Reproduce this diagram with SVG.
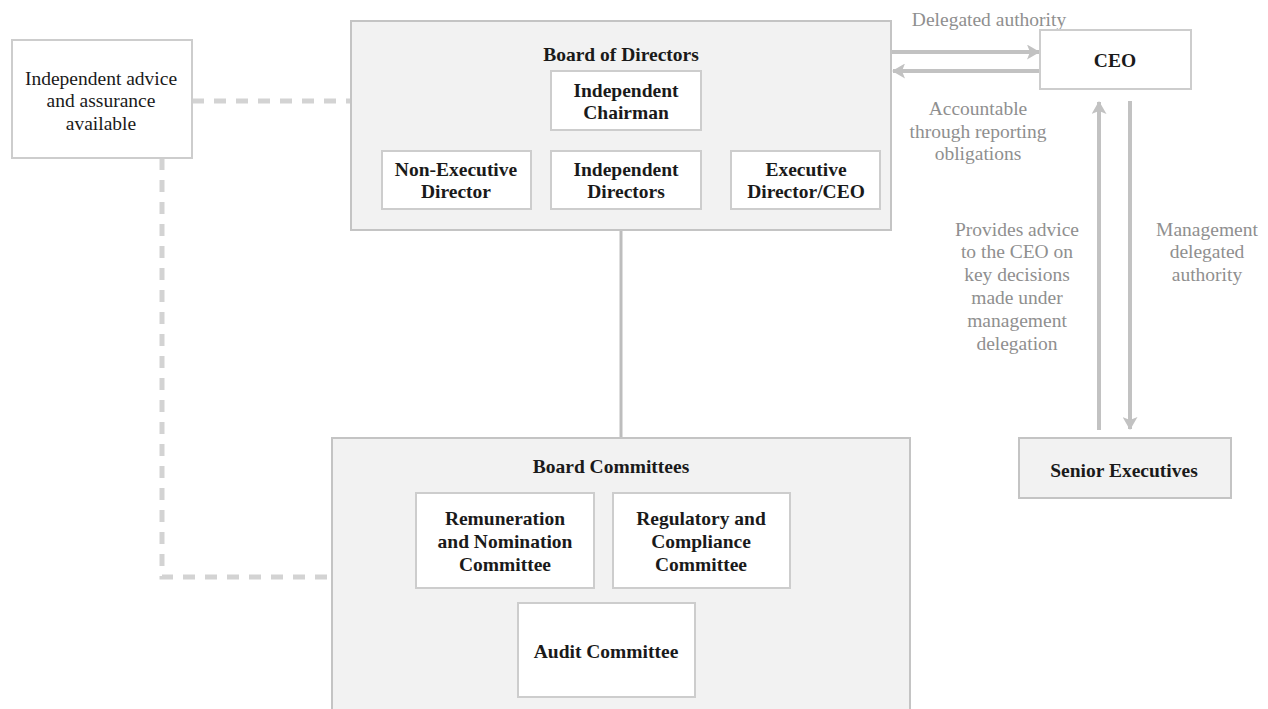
<svg xmlns="http://www.w3.org/2000/svg" width="1268" height="709" viewBox="0 0 1268 709">
<style>
.box{fill:#ffffff;stroke:#cdcdcd;stroke-width:2}
.grp{fill:#f2f2f2;stroke:#c4c4c4;stroke-width:2}
text{font-family:'Liberation Serif','Times New Roman',Tinos,'DejaVu Serif',serif;font-size:19.5px;text-anchor:middle}
.b{font-weight:bold;fill:#1a1a1a}
.r{fill:#1a1a1a}
.g{fill:#8f8f8f}
.arrow{stroke:#c2c2c2;stroke-width:4;fill:none}
.dash{stroke:#d3d3d3;stroke-width:5;fill:none;stroke-dasharray:12 10}
</style>
<defs>
<marker id="ah" viewBox="0 0 13 15" refX="12" refY="7.5" markerWidth="13" markerHeight="15" markerUnits="userSpaceOnUse" orient="auto">
<path d="M0,0 L13,7.5 L0,15 L3,7.5 Z" fill="#c2c2c2"/>
</marker>
</defs>
<rect width="1268" height="709" fill="#ffffff"/>

<g id="connectors">
<path class="dash" d="M192,101 H351"/>
<path class="dash" d="M162,158 V577 H330"/>
<line x1="621" y1="230" x2="621" y2="438" stroke="#bdbdbd" stroke-width="3"/>
<line class="arrow" x1="892" y1="52" x2="1039" y2="52" marker-end="url(#ah)"/>
<line class="arrow" x1="1040" y1="71" x2="893" y2="71" marker-end="url(#ah)"/>
<line class="arrow" x1="1099" y1="430" x2="1099" y2="102" marker-end="url(#ah)"/>
<line class="arrow" x1="1130" y1="101" x2="1130" y2="429" marker-end="url(#ah)"/>
<text class="g" x="989" y="26">Delegated authority</text>
<text class="g" x="978" y="115">Accountable</text>
<text class="g" x="978" y="138">through reporting</text>
<text class="g" x="978" y="160">obligations</text>
<text class="g" x="1017" y="236">Provides advice</text>
<text class="g" x="1017" y="258">to the CEO on</text>
<text class="g" x="1017" y="281">key decisions</text>
<text class="g" x="1017" y="304">made under</text>
<text class="g" x="1017" y="327">management</text>
<text class="g" x="1017" y="350">delegation</text>
<text class="g" x="1207" y="236">Management</text>
<text class="g" x="1207" y="258">delegated</text>
<text class="g" x="1207" y="281">authority</text>
</g>

<g id="independent-advice">
<rect class="box" x="12" y="40" width="180" height="118"/>
<text class="r" x="101" y="85">Independent advice</text>
<text class="r" x="101" y="107">and assurance</text>
<text class="r" x="101" y="130">available</text>
</g>

<g id="board-of-directors">
<rect class="grp" x="351" y="21" width="540" height="209"/>
<text class="b" x="621" y="61">Board of Directors</text>
</g>
<g id="independent-chairman">
<rect class="box" x="551" y="71" width="150" height="59"/>
<text class="b" x="626" y="97">Independent</text>
<text class="b" x="626" y="119">Chairman</text>
</g>
<g id="non-executive-director">
<rect class="box" x="382" y="151" width="149" height="58"/>
<text class="b" x="456" y="176">Non-Executive</text>
<text class="b" x="456" y="198">Director</text>
</g>
<g id="independent-directors">
<rect class="box" x="551" y="151" width="150" height="58"/>
<text class="b" x="626" y="176">Independent</text>
<text class="b" x="626" y="198">Directors</text>
</g>
<g id="executive-director-ceo">
<rect class="box" x="731" y="151" width="149" height="58"/>
<text class="b" x="806" y="176">Executive</text>
<text class="b" x="806" y="198">Director/CEO</text>
</g>

<g id="ceo">
<rect class="box" x="1040" y="30" width="151" height="59"/>
<text class="b" x="1115" y="67">CEO</text>
</g>

<g id="senior-executives">
<rect class="grp" x="1019" y="438" width="212" height="60"/>
<text class="b" x="1124" y="477">Senior Executives</text>
</g>

<g id="board-committees">
<rect class="grp" x="332" y="438" width="578" height="280"/>
<text class="b" x="611" y="473">Board Committees</text>
</g>
<g id="remuneration-committee">
<rect class="box" x="416" y="493" width="178" height="95"/>
<text class="b" x="505" y="525">Remuneration</text>
<text class="b" x="505" y="548">and Nomination</text>
<text class="b" x="505" y="571">Committee</text>
</g>
<g id="regulatory-committee">
<rect class="box" x="613" y="493" width="177" height="95"/>
<text class="b" x="701" y="525">Regulatory and</text>
<text class="b" x="701" y="548">Compliance</text>
<text class="b" x="701" y="571">Committee</text>
</g>
<g id="audit-committee">
<rect class="box" x="518" y="603" width="177" height="94"/>
<text class="b" x="606" y="658">Audit Committee</text>
</g>
</svg>
